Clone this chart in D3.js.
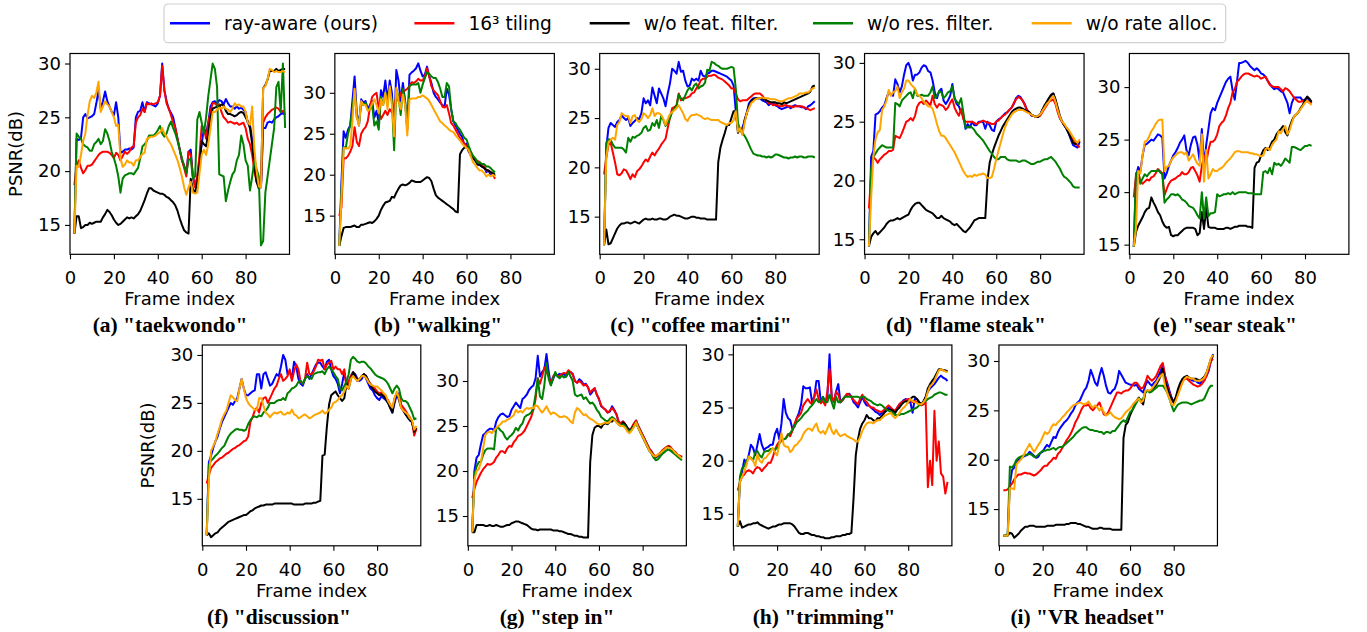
<!DOCTYPE html>
<html>
<head>
<meta charset="utf-8">
<script src="https://cdn.jsdelivr.net/npm/d3@7"></script>
<style>
body { margin: 0; background: #fff; }
svg { display: block; font-family: "DejaVu Sans", sans-serif; }
</style>
</head>
<body>
<svg id="chart" width="1367" height="632"></svg>
<script>
// PSNR per frame, every array starts at frame 2
const firstFrame = 2;
const seriesNames = ["ray-aware (ours)", "16\u00b3 tiling", "w/o feat. filter.", "w/o res. filter.", "w/o rate alloc."];
const seriesColors = ["blue", "red", "black", "green", "orange"];
const xTicks = [0, 20, 40, 60, 80];
const yTicks = [15, 20, 25, 30];

// (a) taekwondo
const taekwondoRay = [14.2,23,22.9,23.1,25,25.3,24.9,25,25.1,25.3,
  26.3,27.5,25.8,26.5,27.4,26.5,26,25.5,25.2,26.4,
  25,21.7,21.8,22,22,22.1,22,22.2,25,25.5,
  25.6,26.4,25.5,26.4,26.3,26.2,26.1,26,26.3,27,
  30,27.5,26.5,25.8,25.4,25,24,23,22,21,
  20.5,19.8,21.8,22,19.5,18.5,19.5,21,22.5,24,
  23.5,24.5,26,26.4,26.5,26.3,26.6,26.5,26.2,26.7,
  26.3,26,26,25.8,26,25.8,25.9,25.7,25.5,24.5,
  24.3,23,21.5,19.5,18.6,18.5,24,24,24.5,24.6,
  24.5,24.8,25,25.1,25.3,25.4,25.2];
const taekwondoTile = [18.7,20.5,21,20.3,19.8,20.1,20.5,20.5,20.6,20.9,
  21.2,21.5,21.7,21.8,21.8,21.8,21.7,21.5,21.2,21.7,
  21.5,21,21.4,21.8,21.6,21.8,22.2,22.3,24.5,25,
  25.2,25.8,25.5,26.3,26.2,26.3,26.2,26.3,26.4,27,
  29.8,27.5,26.3,25.8,25.2,24.5,24,23,22,21,
  20.3,19.5,21.8,21.5,19.5,18.5,19.5,21.5,24.2,24,
  23,24.5,25.5,26.3,26.3,26.1,26.2,25.5,25,24.8,
  24.5,24.6,24.5,24.4,24.5,24.3,24.4,24.5,24,23,
  22.5,21.5,20,19,18.7,18.5,24.5,25,25.3,25.5,
  25.7,25.8,25.9,25.8,25.5,25.6,25.3];
const taekwondoFeat = [14.2,15.8,15.8,14.7,14.8,15,15,15.2,15.1,15.2,
  15.3,15.3,15.3,15.7,16,16.4,16.2,15.9,15.5,15.2,
  15,15.1,15.3,15.5,15.7,15.6,15.7,15.6,15.8,16,
  16.3,16.8,17.3,17.9,18.4,18.4,18.2,18.1,18,17.9,
  17.9,17.8,17.6,17.5,17.3,17.1,16.8,16.3,15.6,15,
  14.5,14.3,14.2,19.3,18.3,18,19,20.5,22.8,22.5,
  22.3,23.5,25,25.8,25.9,26,26,26.2,26.1,25.6,
  25.3,25.3,25.2,25.1,25.2,25.4,25.5,25.4,25,24.6,
  24,22.5,20.5,19,18.4,18.6,27.7,28,28.5,29.3,
  29.3,29.3,29.5,29.3,29.4,29.5,29.5];
const taekwondoRes = [14.3,23.5,23.2,23,22.5,22.3,22.2,21.9,21.9,22.5,
  22.7,23,22.5,22.8,23.9,23.5,22.8,21.8,21.2,20.5,
  19.5,18,19.3,19.6,19.7,19.8,19.8,19.7,20,20.3,
  21.2,22.3,22.5,22.8,23.3,23.3,23.3,23.5,23.8,24.2,
  23.5,23.2,23.5,24.2,24.6,24,23.5,22.8,22,21.2,
  20.5,19.8,21,21.2,19.3,19.5,24.8,25.5,24.5,23.5,
  25,27,28.5,30,29.5,27.8,19.7,19.6,19.5,17.2,
  18.2,19,19.7,20,21,21.5,23.3,22.5,21,20.5,
  18.2,19.5,21,20.2,19.5,13.1,13.5,18,19.5,21,
  22.5,24,27.8,28.3,25.5,30,24];
const taekwondoRate = [14.2,20.5,20.4,21.5,22.8,23.5,25.2,26.5,27,26.8,
  27.3,28.3,25.5,26,26.5,26.2,26,25.5,25,24.2,
  24.3,21.2,20.4,20.6,21,20.8,20.8,20.5,21,21,
  21.3,21.6,21.7,23,23.1,23.2,23.2,23.3,23.5,23.6,
  24,23.5,23.2,22.8,22.5,22,21.5,21,20.3,19.5,
  18.5,17.8,18.5,19,18,17.9,18,19.8,21.5,22,
  21.5,22.5,24,25.5,25.5,25.7,25.9,25.8,26,25.8,
  25.7,25.5,25.8,26.3,26.1,26.2,26,26,25.5,24.5,
  24.3,26,22,20,18.6,18.5,27.7,27.9,28.5,29.5,
  29.4,29.2,29.3,29.2,29.2,29.3,29.2];

// (b) walking
const walkingRay = [11.3,19,25.3,24.5,25.5,26,29,32,27.5,26,
  29.2,28.8,29,28,28.5,29,27,27.8,26.3,30.3,
  29.5,31.5,29,31.5,30,24.8,32.8,31.5,29,31.2,
  29,25.5,32.2,32.5,32.7,33,33.6,32.7,32,32.2,
  33.2,32,31.2,30,29.5,29.2,28.8,28.5,28.3,30.5,
  29.8,28,26.5,26,25.5,25,24.6,23.6,23.8,22.8,
  22.5,22,21.8,21.2,21.2,21,21,20.3,20.5,20,
  20,19.8];
const walkingTile = [15,16,22,22,22.3,22.8,23.5,25.8,24,23.5,
  25,25.5,25.8,26.5,28.3,29.5,29.8,30,28,26.8,
  27.3,27.8,27.3,28,27.6,28.5,29.5,29,30,30,
  30.3,30.5,30.8,31.3,31.2,31.4,31.7,31.5,31.5,32,
  33,32,30.8,30.3,30,29.7,29,28.3,28.2,28.5,
  27.5,26.3,26,25.5,25,24.5,24.2,23.8,23.5,23,
  22.5,22.2,21.8,21.7,21.5,21,21,20.5,20.5,20.3,
  20,19.5];
const walkingFeat = [11.3,12.5,13.5,13.6,13.6,13.6,13.7,13.8,13.6,13.6,
  13.9,13.9,14,14.1,14.2,14.1,14.3,14.6,15,15.7,
  16.2,16.6,16.7,16.8,17.3,17.2,17.8,18.3,18.7,18.8,
  18.7,18.8,19,19.3,19.2,19.1,19.1,19.1,19.3,19.5,
  19.7,19.6,19.2,18.3,17.5,17.2,17,16.8,16.6,16.4,
  16.2,16,15.8,15.5,15.4,22.5,23,23.3,23.4,23,
  22.3,22,21.7,21.3,21.2,21,20.8,20.6,20.5,20.3,
  20.2,20];
const walkingRes = [11.3,18,23.4,23.3,25,26,28,30.4,27,26.3,
  28.7,28.5,28.8,28,28,28.5,26,26.5,25.5,29.5,
  28.5,30,29,30.5,29,23,30.5,29.5,27.3,30.5,
  29,26,30.8,31,31,31,31.2,30,31,31.8,
  32.5,32.3,32,31.8,31.8,31.3,30.5,29.5,29.5,31.2,
  30.8,28,26.5,26.3,25.8,25.5,25,24.5,24.3,23.5,
  22.8,22.3,22,21.5,21.5,21.3,21.3,21,21,20.8,
  20.5,20.3];
const walkingRate = [11.3,17,23.3,23.2,23.2,23.5,26.5,30.5,27,26,
  29,28.5,28.5,27.8,28,28.7,29.2,28.5,27.5,29.2,
  28.5,30,28,30.8,28.5,24.7,30.6,29,28,29.8,
  28.5,24.8,29.2,29.3,29.3,29.3,29.5,29.5,29.7,29.5,
  29.3,29,28.5,28,27.5,27,26.5,26.3,26,25.8,
  25.5,25.3,25.2,24.8,24.5,24.2,23.8,23.5,23.3,23,
  22.2,21.5,21.2,20.8,20.5,20.5,20.2,19.8,20,19.8,
  20,19.8];

// (c) coffee martini
const coffeeRay = [12.1,22,24,24.5,24.3,24.1,24.6,24.8,25.3,25,
  24.8,25,24.2,24.5,24.7,25,24.9,25.5,27,26.5,
  26.8,26.3,28.1,27.3,26.5,28,27.5,27,26.2,27.5,
  28.5,30,29.8,29.5,30.7,29.7,29.8,28.8,28.2,28.3,
  29,28.8,29,28.8,29.8,29.3,29.2,29.5,29.6,29.8,
  29.8,29.7,29.6,29.5,29.4,29.3,29.2,29,28.8,28.3,
  25.7,23.8,23.8,24,24.7,25.5,26.5,26.8,27,27,
  27,27,26.8,26.7,26.6,26.3,26.5,26.5,26.3,26.2,
  26,25.9,26,26.1,26.2,26,26.2,26.3,26.2,26.2,
  26.1,26.1,25.9,26.2,26.3,26.5,26.7];
const coffeeTile = [19.3,21,22.3,22.5,21.5,20.5,19.3,19.2,19.4,19.8,
  19.7,19.3,18.8,19.3,19,19.6,19.8,20.1,20.5,20.8,
  20.6,21.1,21.5,21.2,21.6,21.9,22.3,22.6,22.9,24,
  25,26,26.1,26.3,27.5,26.8,27,27,27.1,27.2,
  27.5,27.6,28,28.3,28.8,29,29,29.2,29.3,29.3,
  29.4,29.3,29.1,29,28.9,28.7,28.5,28.3,28,28,
  27.5,26.9,26.7,26.8,26.8,26.8,27,27.2,27.4,27.5,
  27.5,27.5,27.3,27,26.8,26.5,26.5,26.3,26.4,26.3,
  26.2,26.2,26.3,26.3,26.2,26.2,26.1,26.2,26.2,26.2,
  26.2,26.1,26,25.9,25.8,25.9,26];
const coffeeFeat = [12.1,13.7,12.2,12.3,12.8,13.3,13.8,14.1,14.3,14.3,
  14.4,14.4,14.3,14.4,14.5,14.4,14.3,14.5,14.7,14.8,
  14.7,14.7,14.8,14.7,14.7,14.8,14.8,14.7,14.7,14.8,
  15,15.1,15.2,15.1,15.1,15,14.9,14.8,14.8,14.9,
  15,15,14.9,14.9,14.8,14.8,14.8,14.7,14.7,14.7,
  14.7,14.7,20.5,22,22.8,23.5,24.3,24.3,25,25.7,
  25.7,23.5,24,23.4,24.8,25.5,26.2,26.7,26.9,27,
  27,27,27,26.9,26.8,26.7,26.6,26.6,26.6,26.5,
  26.5,26.4,26.6,26.5,26.6,26.7,26.8,26.9,27,27.1,
  27.2,27.3,27.4,27.5,27.7,28.2,28.3];
const coffeeRes = [12.1,22.5,22.85,22.8,22.3,22,22,22,22,21.8,
  21.5,23,22.6,23.1,23,23.2,23.3,23.5,24,24.2,
  23.7,23.8,24.5,24.2,24.8,24,25.2,24.8,24.2,24.5,
  25,25.6,26,26.2,27.4,27,26.8,27.3,27.8,28.1,
  27.8,28.3,28.5,28,28.2,28.3,28.6,29.9,29.8,30.7,
  30.6,30.4,30.3,30.1,30,30,30,30.1,30.2,30.1,
  28,24.5,23.8,23.5,23.2,22.8,22.3,21.8,21.4,21.3,
  21.2,21.2,21.1,21.1,21,21.1,21,21.1,21.3,21.3,
  21.2,21.1,21,21,20.9,21,21,21.1,21,21.1,
  21.1,21,21,21.1,21.1,21.1,21];
const coffeeRate = [12.1,21,22.5,22.8,23,22.8,24.3,24.6,25.5,25.3,
  25.2,25.2,24.5,25.2,25.3,24.8,24.6,24.9,25.5,25.3,
  25,25.3,26,25.2,25.5,25.5,25.3,24.9,24.3,24.9,
  25.4,25.6,25.8,26,26.3,25.9,25.5,24.9,24.7,25.1,
  25.3,25.3,25.4,25.3,25.2,25,24.9,25,24.9,24.8,
  24.8,24.8,24.8,24.6,24.5,24.4,24.3,24.5,24.5,24.8,
  25.7,23.6,24,23.3,24.5,25.5,26,26.5,26.7,26.9,
  27,27,27.1,27,27,27,26.9,26.9,26.9,26.8,
  26.7,26.7,26.8,26.9,27,27,27.1,27.2,27.3,27.5,
  27.5,27.5,27.6,27.6,27.8,28,28.1];

// (d) flame steak
const flameRay = [14.4,22,22.5,25.6,25.7,25.9,26.2,26.4,27,27.5,
  27.3,27.2,28.6,28.2,27.5,28,29,29.8,30,29.5,
  28.5,29,29,29.2,29.6,29.8,29.7,29.3,29.2,28.5,
  27.5,27,27.6,27.8,26.8,26.5,26.8,27.2,28.2,27,
  26.5,26.3,25.8,25.5,24.4,24.8,24.5,25,24.7,24.7,
  25,25,25,24.4,25,24.7,24.3,24.2,25,25.2,
  25.3,25.5,25.7,25.8,26,26.2,26.5,27,27.2,27.1,
  26.8,26.5,26,25.8,25.5,25.5,25.4,25.5,25.6,26,
  26.3,26.6,27,27.2,27.4,26.8,26,25.3,25,24.7,
  24.4,24,23.5,23,22.9,22.8,23.3];
const flameTile = [17.6,20.5,22,21.8,21.5,21.8,22,22.2,22.3,22.5,
  22.5,22.6,23.8,23.7,23.6,24,24.5,25,25.1,25.3,
  25.1,25.5,26.3,26.6,26.7,26.5,26.8,26.6,26.4,27.2,
  26.5,26.2,26.5,26.4,26.3,26,26.2,26.6,26.9,26.2,
  25.8,25.5,26.1,25.2,25,25,25,25,24.9,24.8,
  24.9,25,25.1,25,24.9,24.9,24.8,24.8,25,25.1,
  25.3,25.5,25.6,25.8,26,26.2,26.6,26.9,27.1,27,
  26.8,26.4,26,25.8,25.6,25.5,25.4,25.4,25.5,25.8,
  26.1,26.4,26.7,26.8,26.9,26.5,25.8,25.3,25,24.7,
  24.5,24.2,23.8,23.5,23.2,23,22.8];
const flameFeat = [14.4,15.2,15.5,15.7,15.4,15.6,15.8,16,16.3,16.5,
  16.6,16.6,16.7,16.8,16.7,16.8,16.9,17,17.1,17.5,
  17.8,18,18.1,18.1,17.9,17.7,17.5,17.4,17.3,17.2,
  17,16.8,16.8,17,16.8,16.7,16.6,16.5,16.3,16.2,
  16.3,16.1,15.9,15.7,15.6,15.8,16,16.3,16.6,16.7,
  16.8,16.8,16.8,16.8,20,21.5,22.2,22.8,23.3,23.8,
  24.2,24.6,24.9,25.2,25.5,25.8,26,26.1,26.2,26.2,
  26.1,26,25.9,25.8,25.6,25.5,25.4,25.4,25.6,26,
  26.4,26.7,27,27.3,27.4,26.9,26.2,25.5,25,24.7,
  24.4,24,23.6,23.2,23.1,23.2,23.4];
const flameRes = [14.4,21,22,22.3,22.6,22.8,23,22.9,22.8,22.8,
  22.8,22.8,26.6,26.5,26.3,26.8,27,27.2,27.4,27.5,
  27,27.8,27.2,27.2,27.3,27.2,27.2,27.2,27.5,28,
  27,27.2,27.6,27.5,27,27.2,27.5,27.6,28,27,
  26.7,26.5,27,25.8,24.5,24.5,24.6,24.5,24.3,24,
  23.8,23.6,23.4,23.1,22.8,22.5,22.3,22,21.8,21.8,
  22,22,22,21.8,21.7,21.7,21.7,21.7,21.6,21.6,
  21.7,21.7,21.6,21.5,21.4,21.4,21.5,21.6,21.6,21.7,
  21.8,21.8,21.9,22,21.8,21.6,21.3,21,20.6,20.3,
  20.2,20,19.8,19.5,19.4,19.4,19.4];
const flameRate = [14.4,18.5,22,23.5,24.1,24.3,26,26.3,26.8,27.7,
  27.2,27.5,27.6,28,27,27.5,27.8,28.5,28.5,28.2,
  28,27.8,27.3,27.2,27,26.7,26.5,26.3,26.3,26.1,
  25.5,24.8,24.2,23.8,23.8,23.6,23.3,23,22.7,22.4,
  22,21.6,21.2,20.8,20.5,20.3,20.4,20.3,20.5,20.4,
  20.5,20.5,20.6,20.5,20.2,20.2,20.3,21,21.8,22.5,
  23.2,23.9,24.5,25,25.3,25.6,25.8,25.9,26,26,
  26,25.9,25.8,25.7,25.6,25.5,25.4,25.5,25.6,25.9,
  26.2,26.5,26.7,27,27.2,26.7,26,25.4,25,24.8,
  24.5,24.3,24,23.7,23.4,23.2,23.5];

// (e) sear steak
const searRay = [14.8,21.5,22.4,22,23.5,24.5,24.6,24.8,25,24.9,
  25.2,25.5,25.4,25.2,21.3,21.8,22.5,23,23.5,23.8,
  24.2,24.7,25,25.4,24,23.5,24.5,25.2,25.3,24.5,
  23,26,22.5,24.5,26,27.5,28,27.8,28.5,29,
  29.5,30,30.5,30.8,31,29.7,28.8,30.5,32.3,32.3,
  32.4,32.5,32.3,32,31.8,31.6,31.8,31.6,31.3,31.2,
  31,30.6,30.3,30,29.8,29.9,29.8,29.6,29.5,29,
  28.5,27.5,28.5,29,29,29,29,28.7,28.8,29,
  28.7,28.5];
const searTile = [19.5,21.5,22,21,20.8,21,21.2,21.1,21.4,21.5,
  21.8,22.2,22,21.8,19.7,20.3,20.8,21.1,21.2,21.3,
  21.5,21.6,21.9,21.7,21.7,21.9,22.3,22.4,22,21.6,
  21,22.5,23.5,22.8,24,24.8,24.8,25,25.5,26.3,
  26.6,26.8,27.3,28,28.5,29.5,29.8,30.5,30.7,31,
  31.2,31.3,31.3,31.2,31.1,31,31.1,31,30.8,30.9,
  31,30.6,30.2,30.1,30,30,30,29.8,29.6,29.9,
  29.8,29.6,29.3,29,28.8,28.6,28.6,28.7,28.7,28.7,
  28.5,28.5];
const searFeat = [14.8,16.2,16.8,17.2,17.6,18.1,18.4,18.5,19.5,19,
  18.6,18.1,17.8,17.2,16.8,16.6,16.7,15.9,15.8,15.9,
  15.9,16.1,16.3,16.5,16.6,16.6,16.6,16.6,16.5,15.9,
  16.1,18.1,16.5,18.5,16.7,16.6,16.6,16.6,16.5,16.5,
  16.5,16.5,16.6,16.6,16.5,16.6,16.7,16.7,16.8,16.8,
  16.8,16.8,16.7,16.7,16.6,22.3,22.8,22.9,23.5,24,
  24.2,24,24.3,24.8,25,25.5,25.8,26,26.3,25.7,
  25.4,26.2,26.8,27.2,27.4,27.6,28,28.3,28.8,29.1,
  28.9,28.6];
const searRes = [14.8,21.8,22,20.8,21.3,21.7,21.5,21.8,22,22,
  22,22.1,21.9,21.7,19,19.3,19.5,19.8,19.8,19.7,
  19.8,19.6,19.3,19.2,19,18.7,18.6,18.5,18.2,17.8,
  17.5,20,17.5,19.5,17.7,18,18,18.1,19.8,19.6,
  19.7,19.8,19.8,19.9,19.8,20,19.8,19.9,20,20,
  20,20,19.9,19.9,19.9,19.8,19.8,19.8,19.8,21.9,
  22,21.8,22.3,21.7,22.8,22.6,22.7,22.5,22.8,23.2,
  23,22.8,24.3,24.3,24.2,24.1,24,24.2,24.4,24.4,
  24.5,24.4];
const searRate = [14.8,16.5,22,21.8,23.5,24.8,24.9,25.3,25.8,26.1,
  26.5,26.8,26.9,26.9,22,22.4,22.5,23,23.3,23.5,
  23.7,23.8,23.8,23.6,23.8,23,23.3,23.6,23.1,22.7,
  22.5,25.5,21,24,21.3,21.7,22.2,22,22,22.2,
  22.3,22.5,22.8,23,23.2,23.5,23.8,23.9,23.9,23.8,
  23.8,23.8,23.8,23.7,23.7,23.6,23.6,23.5,23.4,23.5,
  24.1,24.2,24,24.5,24.8,25,25.8,25.6,26,26.3,
  25.5,25.9,26.6,27.2,27.4,27.6,27.9,28.2,28.5,28.7,
  28.5,28.3];

// (f) discussion
const discussionRay = [11.2,18.8,19.5,20.3,21,21.5,22.3,23,23.5,24,
  24.5,25,24.8,25.2,25.5,26.5,27.5,26.5,25.8,25.8,
  26,26.2,26.3,28,28,26.5,28,28.2,27.5,26.8,
  27,27.5,28,27.8,28.8,30,29.5,28,28.3,27.5,
  29.3,28.8,27.5,27,26.8,27.5,28,27.5,28,28.5,
  29,29.2,29.2,28.8,28.5,29.3,29.5,28.5,27.8,27.5,
  27,26,27,28.2,27,27.2,27.8,28.2,28,27.5,
  27.3,27.5,28,27.5,27,26.5,26.3,25.8,25.5,25.3,
  25.7,25.5,25.3,25,24.5,24,25,25.8,26,24.8,
  24.2,24,23.5,23.2,23,22,22.3];
const discussionTile = [16.6,17.5,18.2,18.5,18.8,19,19.2,19.3,19.5,19.7,
  19.8,20,20.2,20.3,20.5,20.6,20.8,21,21.1,21.5,
  23,23.5,24.2,24.5,24,25,25.5,25.6,25,25.5,
  26,26.5,26.8,27.5,28,27.3,27.5,27.8,28.5,27.3,
  28.3,29,28.5,27.2,27,27.5,29.2,28,28,28.3,
  28.8,29.5,29.4,29.5,28.5,29,29.2,29.4,28.5,28.8,
  28.5,28.5,28,28.5,26.5,27.2,27.8,28.2,27.8,27.3,
  27.5,27.8,28,27.8,27.3,27,26.7,26.5,26.2,26,
  26.1,25.8,25.5,25.3,24.8,24.3,25.5,26,25.8,24.8,
  24.5,24.2,23.8,23.5,23,21.6,22.3];
const discussionFeat = [11.2,11.4,11,11.2,11.4,11.5,11.8,12,12.2,12.4,
  12.6,12.7,12.8,12.9,13,13.1,13.2,13.3,13.3,13.5,
  13.7,13.8,14,14.1,14.2,14.3,14.3,14.4,14.4,14.4,
  14.4,14.5,14.5,14.5,14.5,14.5,14.5,14.5,14.5,14.5,
  14.4,14.4,14.4,14.4,14.4,14.5,14.5,14.5,14.5,14.6,
  14.6,14.7,14.8,19.5,19.6,22.5,24.8,25.8,26,26.2,
  25.8,25.5,25.2,25.5,27,26.5,27.5,28.2,27.8,27.3,
  27.5,27.8,28,27.8,27.3,26.8,26.5,26.2,26,25.8,
  25.9,25.7,25.4,25,24.5,24,25.3,26,25.3,24.5,
  24.2,23.8,23.5,23.2,23,22,22.4];
const discussionRes = [11.2,18.5,19,19.2,19.5,19.7,20,20.3,20.5,21,
  21.5,21.8,22,22.2,22.3,22.2,22.2,22.1,22.2,22.8,
  23.2,23.5,23.6,23.5,23.7,23.6,24,24.2,24.5,25,
  25,25,25.2,25.3,25.3,25.5,25.3,26,26.2,26.5,
  26.6,26.8,27.2,27.3,27,27.5,27.8,27.6,27.5,28,
  28.1,28.2,28.2,28.3,28,28.5,28.8,28.5,28.2,27.8,
  27.5,26.5,26.3,26.8,27.2,28,29.5,29.8,29.6,29.3,
  29.2,29.3,29.3,29.1,28.8,28.6,28.3,28,27.8,27.7,
  27.6,27.5,27.3,27,26.5,26,26.5,26.8,26.5,25.5,
  25.2,25.2,25,24.5,24,23.3,23.4];
const discussionRate = [11.2,17,20,20.5,21,21.8,22.5,23.3,23.8,24.2,
  25,25.8,25.6,25.3,25.2,26.5,27.5,26.5,25.5,25,
  24.7,24.5,24.3,24.3,25.5,25.5,24.7,24,23.8,23.5,
  23.8,24,23.9,24,24.1,23.8,23.8,24,23.9,24.3,
  23.8,23.7,23.4,23.5,23.7,23.8,23.6,23.4,23.5,23.7,
  23.8,23.9,24,24.2,23.9,24,24.3,24.5,25,25.1,
  25.3,25.6,25.8,26.2,26.8,26.5,27.5,27.8,27.5,27.3,
  27.5,27.8,27.8,27.6,27.2,26.9,26.8,26.7,26.7,26.5,
  26.3,26,25.8,25.2,24.8,24.5,25.5,26.2,25.5,24.5,
  24.2,24,23.8,23.4,23.2,22.2,22.6];

// (g) step in
const stepRay = [13.2,20,21.5,21.8,23,24,24.2,24.5,24.7,24.7,
  24.5,25.5,26,26.3,26.4,26.2,26,26.1,26.8,27.2,
  27.6,27.3,27,28,28.2,28.5,29,29.3,29.5,30.3,
  32.8,30.5,31,31.3,33,31,29.6,30.2,30.8,30.6,
  30.8,30.7,30.8,30.5,31,31,30.8,30,29.8,30.2,
  30,29.6,29.7,29.3,28.5,28.8,29.2,28.5,28,27.2,
  27,26.8,26.5,26.6,27.2,26.8,26.3,25.5,25.2,25.5,
  25.2,24.8,24.5,24.8,25.2,25.6,25,24.5,24,23.5,
  23,22.5,22.2,21.8,21.5,21.7,22,22.2,22.4,22.6,
  22.7,22.5,22.2,22,21.8,21.6,21.5];
const stepTile = [17,18,18.8,19.3,19.8,20.2,20.5,20.8,20.7,20.8,
  21,21.5,21.8,22.2,22.2,22,22.5,22.8,22.7,23.2,
  23.5,23.9,24,24.2,24.5,25,25.5,26,26.8,28,
  30.3,29.7,30.5,31.5,31,30.5,29.8,30.5,30.8,30.6,
  30.5,30.8,30.9,30.8,31.2,31,30.7,30,29.8,30,
  29.8,29.5,29.6,29.3,28.7,29,29.2,28.5,28,27.3,
  27,26.8,26.5,26.7,27,26.7,26.3,25.5,25.3,25.5,
  25.2,24.8,24.5,24.8,25.3,25.6,25,24.5,24,23.5,
  23,22.5,22.2,21.8,21.6,21.8,22,22.3,22.5,22.7,
  22.8,22.6,22.3,22.1,21.8,21.7,21.6];
const stepFeat = [13.2,13.2,14,14,14,14,13.9,13.9,14,13.9,
  13.9,14,13.9,13.8,13.8,13.9,14,14,14.2,14.3,
  14.4,14.4,14.3,14.2,14.1,14,13.8,13.6,13.5,13.5,
  13.4,13.5,13.5,13.5,13.5,13.5,13.5,13.4,13.4,13.4,
  13.3,13.3,13.2,13.1,13,13,12.9,12.8,12.8,12.7,
  12.7,12.6,12.6,12.6,21,24,24.8,25,25,24.8,
  25.2,25.3,25.2,25.5,25.5,25.8,25.5,25.2,25,25.4,
  25.2,24.8,24.5,24.7,25,25.4,24.8,24.3,23.8,23.3,
  22.8,22.3,22,21.6,21.5,21.7,22,22.2,22.4,22.6,
  22.7,22.5,22.2,22,21.8,21.6,21.5];
const stepRes = [13.2,19.5,20.5,21,21,21.8,22.3,22.5,22.5,22.5,
  22.4,24.8,24.8,24.5,24.3,23.8,23.5,23.8,24,24.3,
  24.8,24.5,25,25.3,26,26.2,26.3,26.5,27,28.5,
  30.3,28.3,28,29.5,32,30.2,29.5,30.3,31,30.5,
  30.3,30.6,30.4,30.5,31,30.5,30,28.5,28.3,28.4,
  28.5,28,28.2,27.8,27.5,27.6,27.3,26.8,26.5,26,
  25.8,25.6,25.5,25.8,26,25.8,25.5,25.3,25,25.2,
  25,24.6,24.4,24.6,25,25.4,24.8,24.3,23.8,23.3,
  22.8,22.3,22,21.5,21.2,21.3,21.6,21.9,22.1,22.3,
  22.4,22.2,22,21.8,21.6,21.4,21.2];
const stepRate = [13.2,19,20,20.2,21,22.5,24,24.3,24.4,24.2,
  24.5,24.8,25,25.2,25.5,25.5,25.7,25.8,26,26.2,
  26.8,26.5,26.7,26.5,26.8,27,26.9,27,27,27.3,
  27.2,26.8,26.5,26.8,27.2,26.7,26.3,26.5,26.4,26.2,
  26,26,26.1,26,25.8,25.5,25.3,26.5,27,26.8,
  26.5,26.2,26.3,26,25.8,25.7,25.5,25.3,25.2,25.2,
  25.3,25.4,25.3,25.5,25.8,25.7,25.4,25.2,25,25,
  24.8,24.4,24.2,24.5,24.9,25.4,24.8,24.3,23.8,23.3,
  22.8,22.3,22,21.7,21.6,21.8,22,22.2,22.4,22.6,
  22.6,22.5,22.3,22,21.8,21.6,21.4];

// (h) trimming
const trimmingRay = [13.8,18,19,20.1,19.8,20.5,21.5,21.2,20.5,21.5,
  22.5,21.5,21,21.2,21.3,21.5,21.5,22.5,23,22,
  23.5,25.8,24.5,24,23.8,23,23.2,24,24.5,25.3,
  27,26.8,26.8,26.9,25.5,26,27.5,27.5,25.5,26,
  25.5,26,30,26,25.5,26.5,27.2,25.5,25.7,26,
  26.2,26.3,26,25.5,25.3,25,25.5,26,25.5,25.2,
  25.2,25,24.8,24.6,24.5,24.3,24.5,24.6,24.8,25,
  24.9,24.7,24.5,25,25.3,25.5,25.7,25.8,25.5,25.5,
  24.5,25.8,25.8,25.5,25.3,25.5,26,26.5,26.8,27,
  27.2,27.5,27.8,28,27.8,27.7,27.5];
const trimmingTile = [17.2,18,18.5,18.7,19,19.1,19,18.8,19.2,19.4,
  19.3,19,19.3,19.5,19.8,19.8,20.3,21,21.5,21.8,
  22,22,22.1,22.5,22.3,22.8,23.5,24,24.2,24.5,
  25.2,25.5,25.8,25.5,25.3,26,26.7,25.8,25.4,25.6,
  25.2,26.5,28.6,26,25.5,26.5,26.2,25.5,25.7,26,
  26.3,26.2,26,25.7,25.5,25.3,25.8,26.2,25.7,25.5,
  25.2,25,25,24.8,24.7,24.6,24.6,24.8,25,25.2,
  25,24.8,24.7,25,25.3,25.5,25.6,25.7,25.8,25.7,
  25.5,25.6,25.5,25.3,25.2,25.3,25.5,17.5,20,17.7,
  24.7,20,21.8,18.8,18.5,16.9,18];
const trimmingFeat = [13.8,14.3,13.7,13.8,13.9,14,14,14.1,14.1,14.2,
  14,13.9,13.8,13.7,13.6,13.7,13.8,13.8,13.9,14,
  14,14.1,14.1,14.1,14.1,14,13.8,13.5,13.2,13.1,
  13.1,13.2,13.2,13.1,13,13,12.9,12.9,12.8,12.8,
  12.7,12.7,12.7,12.8,12.8,12.9,12.9,12.9,13,13,
  13.1,13.1,13.2,16.5,20.5,22,23,23.5,23.8,24.3,
  24,24,23.8,23.7,24,24,24.2,24.5,24.7,24.8,
  24.8,24.7,24.5,24.8,25,25.3,25.5,25.6,25.5,25.8,
  26,26,25.8,25.5,25.3,25.6,26,26.8,27.2,27.5,
  27.8,28.2,28.6,28.6,28.5,28.5,28.4];
const trimmingRes = [13.8,18.5,19.3,19.5,20,20.2,20.3,20,20.8,20.9,
  20.5,20.3,20.8,20.9,20.9,21.1,21.1,21,21.2,21.6,
  21.9,22,22.1,22.4,22.6,22.9,23.3,23.6,23.8,24,
  24.3,24.5,24.7,25,25.2,25.5,25.8,25.5,25.6,26,
  25.5,25.5,26.2,25.5,24.9,26,25.5,25.5,25.8,26,
  26,26,26,26,26,26,25.9,26,26,25.8,
  25.7,25.6,25.4,25.3,25.2,25.3,25.2,25,24.8,24.7,
  24.6,24.5,24.3,24.3,24.3,24.4,24.4,24.5,24.6,24.7,
  24.8,24.9,25,25.2,25.3,25.5,25.6,25.8,25.9,26,
  26.2,26.3,26.4,26.4,26.3,26.2,26.2];
const trimmingRate = [13.8,18,18.5,19,19.6,20.4,20.2,20,19.5,20.6,
  20,19.8,20.2,20.3,20.6,20.8,21.2,20.8,20.5,21.5,
  22.6,21.5,21.3,21.3,20.8,21,21.4,21.5,21.8,22,
  22.5,22.8,23,23,22.8,23.2,23.5,22.8,22.6,22.8,
  22.5,23,23.5,22.8,22.5,22.9,22.5,22.3,22.4,22.5,
  22.3,22.2,22.1,22,21.8,21.8,22.2,22.8,23.2,23.5,
  23.6,23.6,23.5,23.7,23.8,23.8,24,24.2,24.3,24.4,
  24.5,24.2,24,24.2,24.5,24.8,25,25.2,25.5,25.8,
  25.6,25.5,25.4,25.3,25.3,25.5,25.8,26.5,27,27.2,
  27.5,28,28.5,28.6,28.5,28.4,28.3];

// (i) VR headset
const vrRay = [12.3,12.3,12.4,17.5,18.95,19.2,19.8,20,20.2,20.3,
  20.4,20.5,20.8,20.6,20.4,20.2,20.3,20.7,20.8,21.2,
  21.5,21.3,21.8,22.3,22.2,22.8,23.2,23.5,23.8,24,
  24.3,24.7,25,25.5,25.8,26,26.5,27,27.3,28,
  29.1,28.5,27.8,27.5,28.5,29.3,28.5,27.5,26.8,26.7,
  27,27.2,27.8,29,28.6,28.2,27.8,27.7,27.6,27.6,
  27.5,27.6,27.2,27,26.8,27.5,28,27.7,27.5,27.8,
  28,28.5,29,29.6,28.5,27.8,27,26.3,25.8,26.2,
  26.8,27.5,28,28.2,28.3,28.2,28.1,28,28,27.8,
  27.7,28,28.2,28.5,29,30,30.7];
const vrTile = [16.9,16.9,17,17.3,17.6,18,18.3,18.5,18.5,18.6,
  18.7,18.6,18.6,18.5,18.4,18.5,18.7,18.9,19.2,19.4,
  19.4,19.7,19.9,20.2,20.1,20.6,20.8,21.2,21.6,22,
  22.3,22.7,23.2,23.8,24.2,24.7,25.2,25.5,25.5,25.6,
  25.2,25,25.3,25.5,25.8,25.2,24.6,24.5,24.8,25.3,
  25.8,26.3,26.8,26.8,26.7,26.9,27,27,27.2,27.5,
  27.8,27.8,27.5,27.2,27.3,27.8,28.5,28.2,28,28.2,
  28.5,29,29.5,29.8,28.5,27.5,26.8,26.2,25.8,26.3,
  27,27.6,28,28.3,28.2,28,27.8,27.6,27.5,27.4,
  27.5,27.7,28,28.5,29.2,30,30.2];
const vrFeat = [12.3,12.3,12.3,12.6,12.5,12.1,12.3,12.5,12.8,13,
  13.2,13.2,13.3,13.3,13.3,13.2,13.2,13.2,13.2,13.2,
  13.3,13.3,13.3,13.3,13.4,13.4,13.4,13.4,13.4,13.5,
  13.5,13.6,13.6,13.6,13.5,13.5,13.4,13.3,13.2,13.2,
  13.1,13,13,13,13.1,13.1,13,13,13,13,
  12.9,12.9,12.9,12.9,12.9,22.2,23.5,23.8,24.5,25,
  25.5,26,26.3,25.9,25.6,26.8,27,26.9,27,27.3,
  27.6,28,28.5,29.2,28,27.3,26.6,26.2,25.8,26.4,
  27.2,27.8,28.2,28.4,28.5,28.3,28.2,28.2,28.2,28.1,
  28,28.2,28.4,28.8,29.5,30.2,30.5];
const vrRes = [12.3,12.3,12.5,19.3,19.2,19.5,20,20.2,20.3,20.4,
  20.5,20.5,20.6,20.5,20.3,20.3,20.5,20.7,20.9,20.9,
  21,21,21.1,21.2,21,21.2,21.3,21.3,21.5,21.7,
  21.9,22.1,22.3,22.6,22.8,23,23.2,23.3,23.3,23.1,
  23,23,22.9,22.9,22.8,22.8,22.6,22.8,22.8,22.7,
  22.9,22.9,23.2,23.5,23.8,24,23.8,24.3,24.8,25,
  25.4,25.8,26.2,26,26.2,26.8,27,26.8,26.9,27.1,
  27.3,27.5,27.5,27.5,27.2,26.8,26.2,25.5,24.9,25.3,
  25.6,25.7,25.8,25.8,25.8,25.7,25.6,25.7,25.8,25.9,
  26,26,26.2,26.7,27.2,27.5,27.5];
const vrRate = [12.3,12.3,12.3,17.1,17.1,17,19.5,19.8,20,20.3,
  20.8,21.2,21.6,21.2,20.8,21.1,21.5,21.8,22.3,22.8,
  22.6,22.8,23.3,23.6,23.5,23.8,24,24.3,24.5,24.8,
  25,25.3,25.5,25.6,25.7,25.8,25.7,25.6,25.7,25.9,
  25.5,25.3,25.5,25.3,25,25.3,24.8,24.5,24.6,24.8,
  24.5,24.3,24.2,24.1,24.2,24.5,24.8,25,25.2,25.5,
  25.8,26,26.2,25.8,26,27,27,27,27.2,27.5,
  27.8,28.2,28.5,28.7,27.5,26.8,26.2,25.6,25.5,26,
  26.6,27.2,27.8,28.2,28.4,28.3,28.2,28.2,28,28,
  28,28.1,28.3,28.8,29.5,30.3,30.6];

const captions = ['(a) "taekwondo"', '(b) "walking"', '(c) "coffee martini"', '(d) "flame steak"', '(e) "sear steak"',
  '(f) "discussion"', '(g) "step in"', '(h) "trimming"', '(i) "VR headset"'];
const yLimits = [[12.27, 30.93], [10.28, 34.8], [11.18, 31.55], [13.72, 30.8], [14.08, 33.2],
  [10.1, 31.04], [11.69, 34.0], [11.99, 30.88], [11.28, 31.62]];
const panelSeries = [
  [taekwondoRay, taekwondoTile, taekwondoFeat, taekwondoRes, taekwondoRate],
  [walkingRay, walkingTile, walkingFeat, walkingRes, walkingRate],
  [coffeeRay, coffeeTile, coffeeFeat, coffeeRes, coffeeRate],
  [flameRay, flameTile, flameFeat, flameRes, flameRate],
  [searRay, searTile, searFeat, searRes, searRate],
  [discussionRay, discussionTile, discussionFeat, discussionRes, discussionRate],
  [stepRay, stepTile, stepFeat, stepRes, stepRate],
  [trimmingRay, trimmingTile, trimmingFeat, trimmingRes, trimmingRate],
  [vrRay, vrTile, vrFeat, vrRes, vrRate]
];

// layout
const captionX = [170, 438, 701, 966, 1225, 279, 557, 824, 1088];
const legendX = [170, 414.4, 589.7, 813, 1031.7];
const plotH = 200.8;
const tickFont = "18px";

const svg = d3.select("#chart");

panelSeries.forEach((lines, i) => {
  let row = i < 5 ? 0 : 1;
  let col = row === 0 ? i : i - 5;
  let left = row === 0 ? 70 + col * 264.85 : 202.3 + col * 265.55;
  let width = row === 0 ? 219.5 : 218.5;
  let top = row === 0 ? 53.5 : 345;

  let xScale = d3.scaleLinear().domain([0, 100]).range([0, width]);
  let yScale = d3.scaleLinear().domain(yLimits[i]).range([plotH, 0]);

  let g = svg.append("g").attr("transform", "translate(" + left + "," + top + ")");

  g.append("clipPath").attr("id", "clip" + i)
    .append("rect").attr("width", width).attr("height", plotH);

  let line = d3.line()
    .x((d, k) => xScale(k + firstFrame))
    .y(d => yScale(d));

  g.append("g").attr("clip-path", "url(#clip" + i + ")")
    .selectAll("path").data(lines).enter().append("path")
    .attr("d", d => line(d))
    .attr("fill", "none")
    .attr("stroke", (d, k) => seriesColors[k])
    .attr("stroke-width", 2)
    .attr("stroke-linejoin", "round");

  let xAxis = d3.axisBottom(xScale).tickValues(xTicks).tickSize(5).tickSizeOuter(0).tickPadding(12);
  let xg = g.append("g").attr("transform", "translate(0," + plotH + ")").call(xAxis);
  xg.select(".domain").remove();
  xg.selectAll("text").attr("font-size", tickFont).attr("font-family", "DejaVu Sans").attr("fill", "#000");
  xg.selectAll("line").attr("stroke", "#000").attr("stroke-width", 1.1);

  let yAxis = d3.axisLeft(yScale).tickValues(yTicks).tickSize(5).tickSizeOuter(0).tickPadding(4);
  let yg = g.append("g").call(yAxis);
  yg.select(".domain").remove();
  yg.selectAll("text").attr("font-size", tickFont).attr("font-family", "DejaVu Sans").attr("fill", "#000");
  yg.selectAll("line").attr("stroke", "#000").attr("stroke-width", 1.1);

  g.append("rect").attr("width", width).attr("height", plotH)
    .attr("fill", "none").attr("stroke", "#000").attr("stroke-width", 1.2);

  g.append("text")
    .attr("x", width / 2).attr("y", plotH + 51)
    .attr("text-anchor", "middle").attr("font-size", tickFont)
    .text("Frame index");

  if (col === 0) {
    g.append("text")
      .attr("transform", "translate(-48," + plotH / 2 + ") rotate(-90)")
      .attr("text-anchor", "middle").attr("font-size", tickFont)
      .text("PSNR(dB)");
  }

  svg.append("text")
    .attr("x", captionX[i]).attr("y", top + plotH + 78)
    .attr("text-anchor", "middle")
    .attr("font-family", "'Liberation Serif', serif")
    .attr("font-weight", "bold").attr("font-size", "21.5px")
    .text(captions[i]);
});

// legend across the top
let legend = svg.append("g");
legend.append("rect")
  .attr("x", 164).attr("y", 4)
  .attr("width", 1225.7 - 164).attr("height", 38.7)
  .attr("rx", 4).attr("fill", "#fff")
  .attr("stroke", "#d0d0d0").attr("stroke-width", 1.2);
seriesNames.forEach((name, k) => {
  let lx = legendX[k];
  legend.append("line")
    .attr("x1", lx).attr("x2", lx + 40).attr("y1", 23.3).attr("y2", 23.3)
    .attr("stroke", seriesColors[k]).attr("stroke-width", 2.5);
  legend.append("text")
    .attr("x", lx + 54).attr("y", 23.3).attr("dy", "0.35em")
    .attr("font-size", "18.6px")
    .text(name);
});
</script>
</body>
</html>
